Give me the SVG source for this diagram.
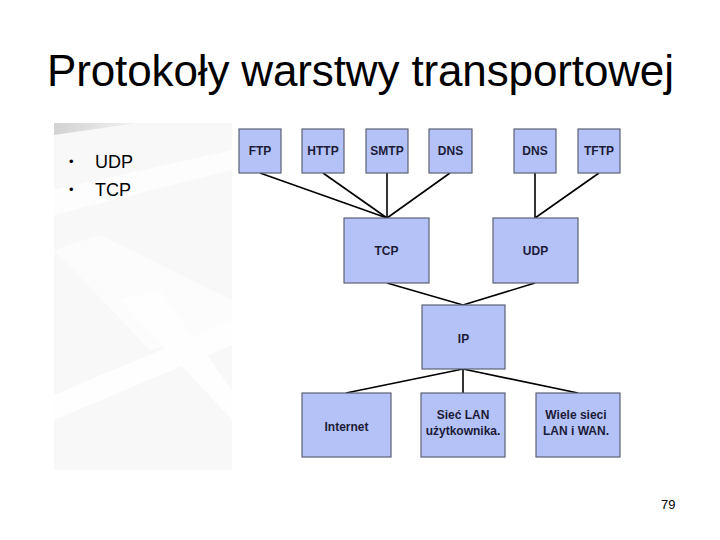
<svg xmlns="http://www.w3.org/2000/svg" width="720" height="540" viewBox="0 0 720 540">
<defs>
<style>
.box{fill:#b4c2f8;stroke:#5c6274;stroke-width:1.2}
.lbl{font-family:"Liberation Sans",Arial,sans-serif;font-weight:bold;font-size:12px;fill:#1c1c38;text-anchor:middle}
.con line{stroke:#000;stroke-width:1.6}
.bul{font-family:"Liberation Sans",Arial,sans-serif;font-size:18px;fill:#000}
.dot{font-family:"Liberation Sans",Arial,sans-serif;font-size:13px;fill:#000}
</style>
<linearGradient id="wedge" x1="0" y1="0" x2="1" y2="0">
<stop offset="0" stop-color="#d2d2d2"/>
<stop offset="1" stop-color="#f2f2f2"/>
</linearGradient>
</defs>
<rect width="720" height="540" fill="#fff"/>
<text x="47" y="86" font-family="Liberation Sans,Arial,sans-serif" font-size="44" fill="#000" textLength="627">Protokoły warstwy transportowej</text>
<g id="background">
<rect x="54" y="123" width="178" height="347" fill="#f8f8f8"/>
<polygon points="54,123 137,123 54,135" fill="url(#wedge)"/>
<polygon points="54,250 100,235 232,300 232,330 150,350" fill="#fcfcfc"/>
<polygon points="54,395 232,320 232,345 54,420" fill="#fefefe"/>
<polygon points="120,300 160,290 232,390 232,420" fill="#fefefe"/>
<polygon points="54,190 232,150 232,170 54,215" fill="#fdfdfd"/>
<rect x="232" y="118" width="400" height="352" fill="#fff"/>
</g>
<g id="bullets">
<text class="dot" x="69" y="166">•</text>
<text class="bul" x="95" y="168">UDP</text>
<text class="dot" x="69" y="194">•</text>
<text class="bul" x="95" y="196">TCP</text>
</g>
<g class="con" id="connectors">
<line x1="260" y1="173" x2="387" y2="218"/>
<line x1="323" y1="173" x2="387" y2="218"/>
<line x1="387" y1="173" x2="387" y2="218"/>
<line x1="450" y1="173" x2="387" y2="218"/>
<line x1="535" y1="173" x2="535" y2="218"/>
<line x1="599" y1="173" x2="535" y2="218"/>
<line x1="387" y1="283" x2="463" y2="305"/>
<line x1="535" y1="283" x2="463" y2="305"/>
<line x1="463" y1="369" x2="346" y2="393"/>
<line x1="463" y1="369" x2="463" y2="393"/>
<line x1="463" y1="369" x2="578" y2="393"/>
</g>
<g id="n-ftp"><rect class="box" x="239" y="129" width="42" height="44"/><text class="lbl" x="260" y="155">FTP</text></g>
<g id="n-http"><rect class="box" x="302" y="129" width="42" height="44"/><text class="lbl" x="323" y="155">HTTP</text></g>
<g id="n-smtp"><rect class="box" x="366" y="129" width="42" height="44"/><text class="lbl" x="387" y="155">SMTP</text></g>
<g id="n-dns1"><rect class="box" x="429" y="129" width="43" height="44"/><text class="lbl" x="450.5" y="155">DNS</text></g>
<g id="n-dns2"><rect class="box" x="514" y="129" width="42" height="44"/><text class="lbl" x="535" y="155">DNS</text></g>
<g id="n-tftp"><rect class="box" x="578" y="129" width="42" height="44"/><text class="lbl" x="599" y="155">TFTP</text></g>
<g id="n-tcp"><rect class="box" x="344" y="218" width="85" height="65"/><text class="lbl" x="386.5" y="255">TCP</text></g>
<g id="n-udp"><rect class="box" x="493" y="218" width="85" height="65"/><text class="lbl" x="535.5" y="255">UDP</text></g>
<g id="n-ip"><rect class="box" x="422" y="305" width="83" height="64"/><text class="lbl" x="463.5" y="343">IP</text></g>
<g id="n-internet"><rect class="box" x="302" y="393" width="89" height="64"/><text class="lbl" x="346.5" y="431">Internet</text></g>
<g id="n-lan"><rect class="box" x="421" y="393" width="84" height="64"/><text class="lbl" x="463" y="419">Sieć LAN</text><text class="lbl" x="463" y="435">użytkownika.</text></g>
<g id="n-wan"><rect class="box" x="536" y="393" width="84" height="64"/><text class="lbl" x="576" y="419">Wiele sieci</text><text class="lbl" x="576" y="435">LAN i WAN.</text></g>
<text x="661" y="509" font-family="Liberation Sans,Arial,sans-serif" font-size="13" fill="#000">79</text>
</svg>
